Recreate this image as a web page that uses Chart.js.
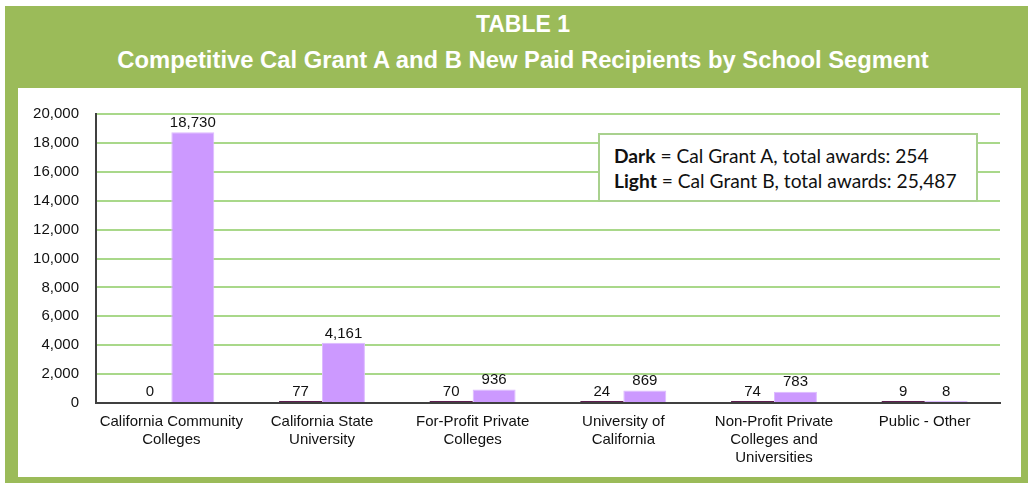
<!DOCTYPE html>
<html>
<head>
<meta charset="utf-8">
<script src="https://cdn.jsdelivr.net/npm/chart.js@4"></script>
<style>
  body { margin: 0; background: #fff; font-family: "Liberation Sans", Arial, sans-serif; }
  #frame { position: absolute; left: 5px; top: 6px; width: 1023px; height: 477px; background: #9BBB59; }
  #title1, #title2 { position: absolute; left: 8px; width: 1030px; text-align: center; color: #fff; font-weight: bold; line-height: 1; }
  #title1 { top: 13px; font-size: 23px; }
  #title2 { top: 48px; font-size: 23.8px; }
  #panel { position: absolute; left: 18px; top: 88px; width: 1003px; height: 389px; background: #fff; }
  #note { position: absolute; left: 598px; top: 133px; width: 380px; height: 69px; border: 2px solid #A9D18E;
          background: #fff; font-family: Lato, "Open Sans", sans-serif; font-size: 19.2px; color: #111; line-height: 25px;
          padding: 8px 0 0 14px; box-sizing: border-box; }
</style>
</head>
<body>
<div id="frame"></div>
<div id="title1">TABLE 1</div>
<div id="title2">Competitive Cal Grant A and B New Paid Recipients by School Segment</div>
<div id="panel"><canvas id="chart" width="1003" height="389"></canvas></div>
<div id="note"><b>Dark</b> = Cal Grant A, total awards: 254<br><b>Light</b> = Cal Grant B, total awards: 25,487</div>
<script>
// School segments, one per group of bars
const segments = [
  ['California Community', 'Colleges'],
  ['California State', 'University'],
  ['For-Profit Private', 'Colleges'],
  ['University of', 'California'],
  ['Non-Profit Private', 'Colleges and', 'Universities'],
  ['Public - Other']
];
const calGrantA = [0, 77, 70, 24, 74, 9];
const calGrantB = [18730, 4161, 936, 869, 783, 8];
const yTicks = [0, 2000, 4000, 6000, 8000, 10000, 12000, 14000, 16000, 18000, 20000];

const FONT = '"Liberation Sans", Arial, sans-serif';

// value labels above each bar
const barLabels = {
  id: 'barLabels',
  afterDatasetsDraw(chart) {
    const c = chart.ctx;
    c.save();
    c.font = '15px ' + FONT;
    c.fillStyle = '#111';
    c.textAlign = 'center';
    c.textBaseline = 'bottom';
    chart.data.datasets.forEach((ds, i) => {
      chart.getDatasetMeta(i).data.forEach((bar, j) => {
        c.fillText(ds.data[j].toLocaleString('en-US'), bar.x, bar.y - 2);
      });
    });
    c.restore();
  }
};

// zero values get no visible bar
const hideZero = color => ctx => ctx.raw === 0 ? 'rgba(0,0,0,0)' : color;

new Chart(document.getElementById('chart'), {
  type: 'bar',
  data: {
    labels: segments,
    datasets: [
      { label: 'Cal Grant A', data: calGrantA, backgroundColor: hideZero('#5E1E50'), minBarLength: 2 },
      { label: 'Cal Grant B', data: calGrantB, backgroundColor: hideZero('#CC99FF'), borderColor: hideZero('#DDBBFF'), borderWidth: 1, minBarLength: 2 }
    ]
  },
  options: {
    responsive: false,
    animation: false,
    categoryPercentage: 0.57,
    barPercentage: 1.0,
    layout: { padding: { top: 21, right: 21, left: 0, bottom: 0 } },
    plugins: { legend: { display: false }, tooltip: { enabled: false } },
    scales: {
      x: {
        grid: { display: false, drawTicks: false },
        border: { color: '#404040', width: 2 },
        ticks: { color: '#111', font: { family: FONT, size: 15, lineHeight: 1.2 }, padding: 10, maxRotation: 0, autoSkip: false },
        afterFit(scale) { scale.height = 74; }
      },
      y: {
        min: 0,
        max: 20000,
        afterBuildTicks(scale) { scale.ticks = yTicks.map(v => ({ value: v })); },
        grid: { color: ctx => ctx.tick && ctx.tick.value === 0 ? 'rgba(0,0,0,0)' : '#A9D88A', lineWidth: 2, drawTicks: false },
        border: { color: '#404040', width: 2 },
        ticks: {
          color: '#111',
          font: { family: FONT, size: 15 },
          padding: 17,
          callback: v => v.toLocaleString('en-US')
        },
        afterFit(scale) { scale.width = 78; }
      }
    }
  },
  plugins: [barLabels]
});
</script>
</body>
</html>
